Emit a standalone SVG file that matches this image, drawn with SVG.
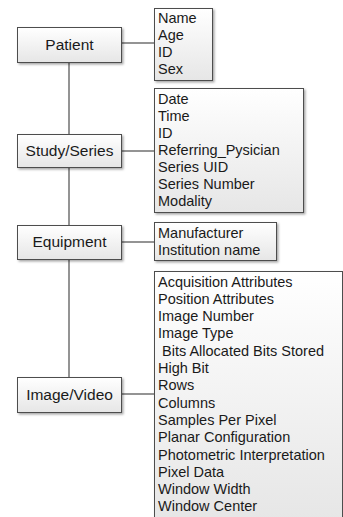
<svg xmlns="http://www.w3.org/2000/svg" width="343" height="517" viewBox="0 0 343 517">
<defs>
<linearGradient id="g" x1="0" y1="0" x2="0" y2="1">
<stop offset="0" stop-color="#ffffff"/>
<stop offset="1" stop-color="#e6e6e6"/>
</linearGradient>
<filter id="sh" x="-10%" y="-10%" width="130%" height="130%">
<feDropShadow dx="1.5" dy="1.5" stdDeviation="0.8" flood-color="#000" flood-opacity="0.35"/>
</filter>
</defs>
<style>
.box{fill:url(#g);stroke:#4d4d4d;stroke-width:1;filter:url(#sh)}
.lbl{font-family:"Liberation Sans",Arial,sans-serif;font-size:15.5px;fill:#1a1a1a;text-anchor:middle}
.att{font-family:"Liberation Sans",Arial,sans-serif;font-size:14.5px;fill:#1a1a1a}
.con{stroke:#707070;stroke-width:1.5;fill:none}
</style>
<rect width="343" height="517" fill="#ffffff"/>
<g id="connectors">
<line class="con" x1="69" y1="62" x2="69" y2="377"/>
<line class="con" x1="121" y1="43" x2="154" y2="43"/>
<line class="con" x1="121" y1="151" x2="154" y2="151"/>
<line class="con" x1="121" y1="242" x2="154" y2="242"/>
<line class="con" x1="121" y1="394" x2="154" y2="394"/>
</g>
<g id="patient">
<rect class="box" x="17.5" y="27.5" width="104" height="35"/>
<text class="lbl" x="69.5" y="50">Patient</text>
</g>
<g id="study">
<rect class="box" x="17.5" y="134.5" width="104" height="33"/>
<text class="lbl" x="69.5" y="156">Study/Series</text>
</g>
<g id="equipment">
<rect class="box" x="17.5" y="225.5" width="104" height="34"/>
<text class="lbl" x="69.5" y="247">Equipment</text>
</g>
<g id="image">
<rect class="box" x="17.5" y="377.5" width="104" height="35"/>
<text class="lbl" x="69.5" y="400">Image/Video</text>
</g>
<g id="patient-attrs">
<rect class="box" x="154.5" y="8.5" width="58" height="72"/>
<text class="att" x="158" y="23">Name</text>
<text class="att" x="158" y="40">Age</text>
<text class="att" x="158" y="57">ID</text>
<text class="att" x="158" y="74">Sex</text>
</g>
<g id="study-attrs">
<rect class="box" x="154.5" y="88.5" width="149" height="124"/>
<text class="att" x="158" y="104">Date</text>
<text class="att" x="158" y="121">Time</text>
<text class="att" x="158" y="138">ID</text>
<text class="att" x="158" y="155">Referring_Pysician</text>
<text class="att" x="158" y="172">Series UID</text>
<text class="att" x="158" y="189">Series Number</text>
<text class="att" x="158" y="206">Modality</text>
</g>
<g id="equipment-attrs">
<rect class="box" x="154.5" y="222.5" width="122" height="38"/>
<text class="att" x="158" y="238">Manufacturer</text>
<text class="att" x="158" y="255">Institution name</text>
</g>
<g id="image-attrs">
<rect class="box" x="154.5" y="271.5" width="188" height="250"/>
<text class="att" x="158" y="287">Acquisition Attributes</text>
<text class="att" x="158" y="304">Position Attributes</text>
<text class="att" x="158" y="321">Image Number</text>
<text class="att" x="158" y="338">Image Type</text>
<text class="att" x="158" y="356" xml:space="preserve"> Bits Allocated Bits Stored</text>
<text class="att" x="158" y="373">High Bit</text>
<text class="att" x="158" y="390">Rows</text>
<text class="att" x="158" y="408">Columns</text>
<text class="att" x="158" y="425">Samples Per Pixel</text>
<text class="att" x="158" y="442">Planar Configuration</text>
<text class="att" x="158" y="460">Photometric Interpretation</text>
<text class="att" x="158" y="477">Pixel Data</text>
<text class="att" x="158" y="494">Window Width</text>
<text class="att" x="158" y="511">Window Center</text>
</g>
</svg>
